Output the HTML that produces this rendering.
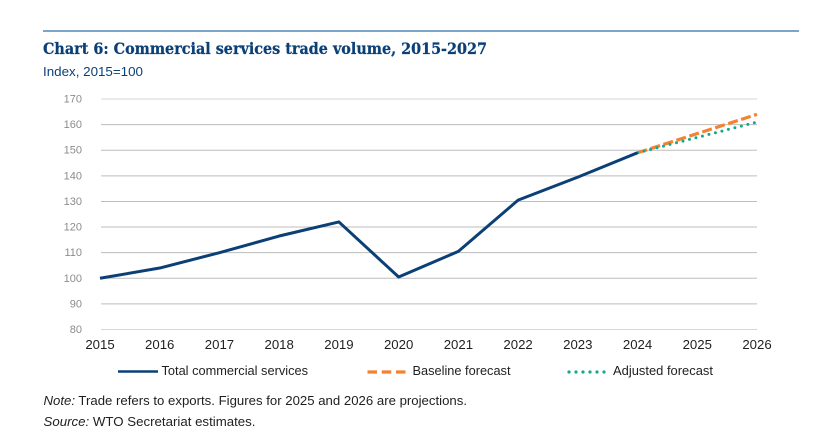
<!DOCTYPE html>
<html>
<head>
<meta charset="utf-8">
<style>
html,body{margin:0;padding:0;background:#fff;width:825px;height:446px;overflow:hidden}
svg{display:block}
text{font-family:"Liberation Sans",sans-serif}
</style>
</head>
<body>
<svg id="chart" width="825" height="446" viewBox="0 0 825 446" xmlns="http://www.w3.org/2000/svg">
<rect width="825" height="446" fill="#fff"/>
<line x1="43" x2="799" y1="31" y2="31" stroke="#2f6fa8" stroke-width="1.2"/>
<text x="43" y="54" font-size="15.5" font-weight="700" fill="#0b4077" stroke="#0b4077" stroke-width="0.25" textLength="444" lengthAdjust="spacingAndGlyphs" style="font-family:'DejaVu Serif','Liberation Serif',serif">Chart 6: Commercial services trade volume, 2015-2027</text>
<text x="43" y="76" font-size="12.6" fill="#0b4077" textLength="100" lengthAdjust="spacingAndGlyphs">Index, 2015=100</text>
<g id="grid"></g>
<g id="yticks"></g>
<g id="xticks"></g>
<g id="series"></g>
<g>
<line x1="118" x2="158" y1="371.500" y2="371.500" stroke="#0b4077" stroke-width="2.600"/>
<text x="161.500" y="375" font-size="13" fill="#1f1f1f" textLength="146.500" lengthAdjust="spacingAndGlyphs">Total commercial services</text>
<line x1="367.500" x2="405.500" y1="372" y2="372" stroke="#f58233" stroke-width="3.200" stroke-dasharray="9.500 4.750"/>
<text x="412.500" y="375" font-size="13" fill="#1f1f1f" textLength="98" lengthAdjust="spacingAndGlyphs">Baseline forecast</text>
<line x1="569" x2="606" y1="372" y2="372" stroke="#12a88a" stroke-width="3.200" stroke-linecap="round" stroke-dasharray="0 7"/>
<text x="613" y="375" font-size="13" fill="#1f1f1f" textLength="100" lengthAdjust="spacingAndGlyphs">Adjusted forecast</text>
</g>
<text x="43.500" y="405" font-size="13" fill="#1f1f1f" textLength="423.500" lengthAdjust="spacingAndGlyphs"><tspan font-style="italic">Note:</tspan> Trade refers to exports. Figures for 2025 and 2026 are projections.</text>
<text x="43.500" y="426" font-size="13" fill="#1f1f1f" textLength="212" lengthAdjust="spacingAndGlyphs"><tspan font-style="italic">Source:</tspan> WTO Secretariat estimates.</text>
</svg>
<script>
const years = [2015, 2016, 2017, 2018, 2019, 2020, 2021, 2022, 2023, 2024, 2025, 2026];
const yTicks = [80, 90, 100, 110, 120, 130, 140, 150, 160, 170];
const totalValues = [100, 104, 110, 116.5, 122, 100.5, 110.5, 130.5, 139.5, 149];
const baselineValues = [149, 156.5, 164];
const adjustedValues = [149, 155, 161];
const forecastYears = [2024, 2025, 2026];

const NS = 'http://www.w3.org/2000/svg';
function xScale(year) { return 100 + (year - 2015) * (657 / 11); }
function yScale(value) { return 329.5 - (value - 80) * (230.5 / 90); }
function make(tag, attrs, parent) {
  const el = document.createElementNS(NS, tag);
  for (const k in attrs) el.setAttribute(k, attrs[k]);
  parent.appendChild(el);
  return el;
}
const grid = document.getElementById('grid');
const yG = document.getElementById('yticks');
const xG = document.getElementById('xticks');
const seriesG = document.getElementById('series');

yTicks.forEach(function (t) {
  const line = make('line', { x1: 101, x2: 757, y1: yScale(t), y2: yScale(t), stroke: (t === 80 || t === 170) ? '#d6d6d6' : '#bdbdbd', 'stroke-width': 1 }, grid);
  
  
  const label = make('text', { x: 82, y: yScale(t) + 3.5, 'text-anchor': 'end', 'font-size': 11, fill: '#8c8c8c' }, yG);
  label.textContent = t;
  
  
});
years.forEach(function (y) {
  const label = make('text', { x: xScale(y), y: 349, 'text-anchor': 'middle', 'font-size': 13.2, fill: '#1f1f1f' }, xG);
  label.textContent = y;
  
  
});
function pts(xs, vals) {
  return vals.map(function (v, i) { return xScale(xs[i]).toFixed(2) + ',' + yScale(v).toFixed(2); }).join(' ');
}
const baseLine = make('polyline', { points: pts(forecastYears, baselineValues), fill: 'none', stroke: '#f58233', 'stroke-width': 3.2, 'stroke-dasharray': '10 3.6' }, seriesG);


const adjLine = make('polyline', { points: pts(forecastYears, adjustedValues), fill: 'none', stroke: '#12a88a', 'stroke-width': 3, 'stroke-linecap': 'round', 'stroke-dasharray': '0 6.700' }, seriesG);


const totalLine = make('polyline', { points: pts(years.slice(0, totalValues.length), totalValues), fill: 'none', stroke: '#0b4077', 'stroke-width': 3, 'stroke-linejoin': 'round' }, seriesG);


</script>
</body>
</html>
